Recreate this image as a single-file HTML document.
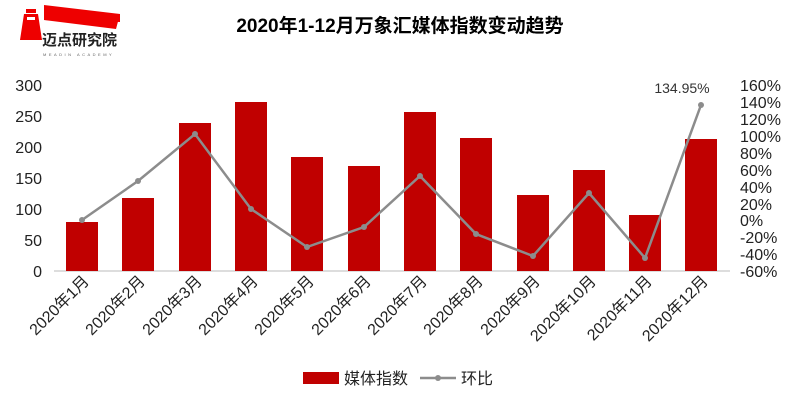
<!DOCTYPE html><html><head><meta charset="utf-8"><style>body{margin:0;background:#fff}svg{display:block}text{font-family:"Liberation Sans","Noto Sans CJK SC",sans-serif}</style></head><body>
<svg width="800" height="405" viewBox="0 0 800 405">
<!-- logo -->
<polygon points="44,5 120,14 120,22 44,20" fill="#e00"/>
<polygon points="44,13 120,14 116,29 44,20" fill="#e00"/>
<rect x="26" y="9" width="10" height="4" fill="#e00"/>
<polygon points="24,14 38,14 42,40 20,40" fill="#e00"/>
<rect x="27" y="17" width="8" height="3" fill="#fff"/>
<text x="42" y="45" font-size="15" font-weight="bold" fill="#222">迈点研究院</text>
<text x="43" y="56" font-size="4" fill="#666" letter-spacing="2.5">MEADIN ACADEMY</text>
<text x="400" y="32" font-size="19" font-weight="bold" text-anchor="middle" fill="#000">2020年1-12月万象汇媒体指数变动趋势</text>
<g font-size="16" fill="#222" text-anchor="end">
<text x="42" y="91">300</text><text x="42" y="122">250</text><text x="42" y="153">200</text><text x="42" y="184">150</text><text x="42" y="215">100</text><text x="42" y="246">50</text><text x="42" y="277">0</text>
</g>
<g font-size="16" fill="#222" text-anchor="start">
<text x="740" y="91">160%</text><text x="740" y="108">140%</text><text x="740" y="125">120%</text><text x="740" y="142">100%</text><text x="740" y="159">80%</text><text x="740" y="176">60%</text><text x="740" y="193">40%</text><text x="740" y="210">20%</text><text x="740" y="226">0%</text><text x="740" y="243">-20%</text><text x="740" y="260">-40%</text><text x="740" y="277">-60%</text>
</g>
<line x1="54" y1="271" x2="730" y2="271" stroke="#bbb"/>
<g fill="#c00000">
<rect x="66" y="222" width="32" height="49"/><rect x="122" y="198" width="32" height="73"/><rect x="179" y="123" width="32" height="148"/><rect x="235" y="102" width="32" height="169"/><rect x="291" y="157" width="32" height="114"/><rect x="348" y="166" width="32" height="105"/><rect x="404" y="112" width="32" height="159"/><rect x="460" y="138" width="32" height="133"/><rect x="517" y="195" width="32" height="76"/><rect x="573" y="170" width="32" height="101"/><rect x="629" y="215" width="32" height="56"/><rect x="685" y="139" width="32" height="132"/>
</g>
<polyline fill="none" stroke="#8c8c8c" stroke-width="2.5" points="82,220 138,181 195,134 251,209 307,247 364,227 420,176 476,234 533,256 589,193 645,258 701,105"/>
<g fill="#8c8c8c">
<circle cx="82" cy="220" r="3"/><circle cx="138" cy="181" r="3"/><circle cx="195" cy="134" r="3"/><circle cx="251" cy="209" r="3"/><circle cx="307" cy="247" r="3"/><circle cx="364" cy="227" r="3"/><circle cx="420" cy="176" r="3"/><circle cx="476" cy="234" r="3"/><circle cx="533" cy="256" r="3"/><circle cx="589" cy="193" r="3"/><circle cx="645" cy="258" r="3"/><circle cx="701" cy="105" r="3"/>
</g>
<text x="682" y="93" font-size="14" fill="#333" text-anchor="middle">134.95%</text>
<g font-size="16" fill="#222" text-anchor="end">
<text transform="translate(90,282) rotate(-45)">2020年1月</text>
<text transform="translate(146,282) rotate(-45)">2020年2月</text>
<text transform="translate(203,282) rotate(-45)">2020年3月</text>
<text transform="translate(259,282) rotate(-45)">2020年4月</text>
<text transform="translate(315,282) rotate(-45)">2020年5月</text>
<text transform="translate(372,282) rotate(-45)">2020年6月</text>
<text transform="translate(428,282) rotate(-45)">2020年7月</text>
<text transform="translate(484,282) rotate(-45)">2020年8月</text>
<text transform="translate(541,282) rotate(-45)">2020年9月</text>
<text transform="translate(597,282) rotate(-45)">2020年10月</text>
<text transform="translate(653,282) rotate(-45)">2020年11月</text>
<text transform="translate(709,282) rotate(-45)">2020年12月</text>
</g>
<rect x="303" y="372" width="36" height="12" fill="#c00000"/>
<text x="344" y="384" font-size="16" fill="#222">媒体指数</text>
<line x1="420" y1="378" x2="456" y2="378" stroke="#8c8c8c" stroke-width="2.5"/>
<circle cx="438" cy="378" r="3" fill="#8c8c8c"/>
<text x="461" y="384" font-size="16" fill="#222">环比</text>
</svg></body></html>
